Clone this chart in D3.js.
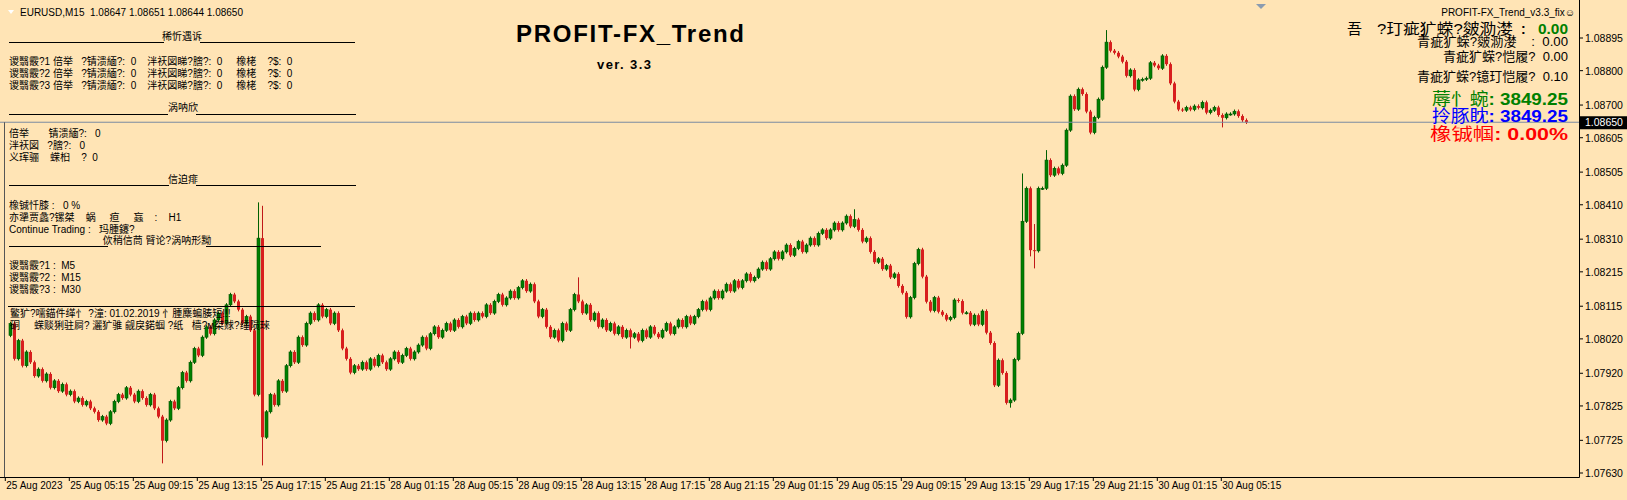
<!DOCTYPE html>
<html><head><meta charset="utf-8">
<script src="https://cdn.jsdelivr.net/npm/d3@7/dist/d3.min.js"></script>
<style>body{margin:0;background:#ffe4b5;}svg{display:block;font-family:"Liberation Sans","Noto Sans CJK SC",sans-serif;}text{white-space:pre;}</style>
</head><body><svg id="c" width="1627" height="500"></svg>
<script>
const closes = [
1.08065,1.07962,1.08015,1.07942,1.07982,1.07952,1.07912,1.07932,1.07898,1.07918,1.07878,1.07898,1.07868,1.07888,
1.07858,1.07868,1.07838,1.07848,1.07828,1.07838,1.07818,1.07808,1.07784,1.07794,1.07774,
1.07808,1.07838,1.07858,1.07848,1.07878,1.07858,1.07838,1.07868,1.07848,1.07828,1.07858,1.07818,1.07794,
1.07724,
1.07784,1.07838,1.07818,1.07878,1.07922,1.07898,1.07952,1.07992,1.07972,
1.08025,1.08055,1.08035,1.08075,1.08095,1.08065,1.08119,1.08149,1.08129,1.08105,1.08065,1.08085,1.08045,1.07858,
1.08313,1.07734,
1.07808,1.07858,1.07828,1.07898,1.07868,1.07942,1.07982,1.07952,1.08025,1.08002,1.08065,1.08095,
1.08075,1.08119,1.08085,1.08105,1.08065,1.08095,1.08045,1.07992,1.07962,1.07922,1.07942,1.07932,
1.07952,1.07932,1.07962,1.07942,1.07972,1.07952,1.07932,1.07962,1.07982,1.07952,1.07972,1.07992,1.07962,1.07982,
1.08002,1.08025,1.07992,1.08035,1.08055,1.08025,1.08045,1.08065,1.08045,1.08075,1.08055,1.08085,1.08065,1.08095,1.08075,1.08095,
1.08085,1.08119,1.08095,1.08129,1.08149,1.08119,1.08139,1.08159,1.08139,1.08169,1.08189,1.08159,1.08179,
1.08129,1.08085,1.08105,1.08055,1.08025,1.08045,1.08015,
1.08065,1.08045,1.08105,1.08149,1.08129,
1.08095,1.08119,1.08075,1.08095,1.08055,1.08075,1.08045,1.08065,1.08035,1.08055,1.08025,1.08045,1.08025,
1.08035,1.08015,1.08045,1.08025,1.08055,1.08035,1.08025,1.08045,1.08065,1.08035,1.08055,1.08075,1.08055,1.08085,1.08065,1.08085,
1.08105,1.08129,1.08105,1.08139,1.08159,1.08139,1.08159,1.08179,1.08159,1.08189,1.08169,1.08189,1.08209,1.08189,1.08199,
1.08223,1.08243,1.08223,1.08253,1.08273,1.08253,1.08273,1.08293,1.08263,1.08283,1.08303,1.08273,1.08293,1.08313,1.08293,1.08327,
1.08337,1.08313,1.08337,1.08357,1.08337,1.08357,1.08377,1.08347,1.08367,
1.08337,1.08303,1.08313,1.08273,1.08243,1.08253,1.08223,1.08233,1.08199,1.08209,
1.08174,1.08154,1.08084,1.08140,1.08239,1.08280,1.08201,1.08128,1.08102,1.08140,1.08099,1.08090,1.08076,1.08082,1.08133,
1.08130,1.08096,1.08096,1.08062,1.08089,1.08062,1.08101,1.08038,1.08008,1.07885,1.07958,1.07921,1.07834,1.07842,1.07960,
1.08036,1.08362,1.08458,1.08278,1.08276,1.08458,1.08458,1.08540,1.08496,1.08516,1.08501,1.08525,1.08627,1.08726,1.08688,
1.08746,1.08732,1.08681,1.08620,1.08664,1.08717,1.08810,1.08883,1.08858,1.08852,1.08841,1.08826,1.08785,1.08802,1.08745,
1.08773,1.08775,1.08778,1.08823,1.08815,1.08807,1.08843,1.08819,1.08763,1.08710,1.08687,1.08685,1.08693,1.08687,1.08697,
1.08692,1.08708,1.08678,1.08685,1.08693,1.08671,1.08663,1.08674,1.08674,1.08682,1.08668,1.08656,1.08650
];
const spikeHigh = {62:1.08417,63:1.08407,142:1.08199,211:1.08397,253:1.08501,256:1.08354,259:1.08569,274:1.08918};
const spikeLow = {38:1.07658,63:1.07652,155:1.07992,250:1.07820,255:1.08260,256:1.08225,303:1.08635};
const priceTicks = [1.08895,1.08800,1.08700,1.08605,1.08505,1.08410,1.08310,1.08215,1.08115,1.08020,1.07920,1.07825,1.07725,1.07630];
const timeLabels = ["25 Aug 2023","25 Aug 05:15","25 Aug 09:15","25 Aug 13:15","25 Aug 17:15","25 Aug 21:15","28 Aug 01:15","28 Aug 05:15","28 Aug 09:15","28 Aug 13:15","28 Aug 17:15","28 Aug 21:15","29 Aug 01:15","29 Aug 05:15","29 Aug 09:15","29 Aug 13:15","29 Aug 17:15","29 Aug 21:15","30 Aug 01:15","30 Aug 05:15"];
const lastPrice = 1.08650;

const svg = d3.select("#c");
const W=1579, H=477;
const y = d3.scaleLinear().domain([1.07630,1.08895]).range([473,38]);
const x = d3.scaleLinear().domain([0,1]).range([10,14]);
const xt = d3.scaleLinear().domain([0,1]).range([5.3,69.3]);
svg.append("rect").attr("width",1627).attr("height",500).attr("fill","#ffe4b5");

const bars = closes.map((c,i)=>{const o = i===0?1.0803:closes[i-1];
  return {i,o,c,h:spikeHigh[i]??Math.max(o,c)+0.00005,l:spikeLow[i]??Math.min(o,c)-0.00005};});
const g = svg.append("g");
bars.forEach(b=>{
  const up = b.c>=b.o;
  const col = up ? "#008000" : "#d81e1e";
  const cx = Math.round(x(b.i))+0.5;
  g.append("line").attr("x1",cx).attr("x2",cx).attr("y1",y(b.h)).attr("y2",y(b.l)).attr("stroke",up?"#006000":"#c01818");
  const t=Math.min(y(b.o),y(b.c)), hh=Math.max(1,Math.abs(y(b.o)-y(b.c)));
  g.append("rect").attr("x",cx-1.5).attr("y",t).attr("width",3).attr("height",hh).attr("fill",col)
    .attr("stroke",up?"#005000":"none").attr("stroke-width",0.6);
});

svg.append("line").attr("x1",0).attr("x2",W).attr("y1",y(lastPrice)).attr("y2",y(lastPrice)).attr("stroke","#7b8ba0");
svg.append("line").attr("x1",W+0.5).attr("x2",W+0.5).attr("y1",0).attr("y2",H+0.5).attr("stroke","#000");
svg.append("line").attr("x1",0).attr("x2",W+0.5).attr("y1",H+0.5).attr("y2",H+0.5).attr("stroke","#000");
svg.append("line").attr("x1",4.5).attr("x2",4.5).attr("y1",y(lastPrice)).attr("y2",H).attr("stroke","#555");
priceTicks.forEach(p=>{
  svg.append("line").attr("x1",W).attr("x2",W+4).attr("y1",y(p)).attr("y2",y(p)).attr("stroke","#000");
  svg.append("text").attr("x",1585).attr("y",y(p)+4).attr("font-size",10.5).text(p.toFixed(5));
});
svg.append("rect").attr("x",1580).attr("y",y(lastPrice)-6).attr("width",47).attr("height",13).attr("fill","#000");
svg.append("text").attr("x",1585).attr("y",y(lastPrice)+4).attr("font-size",10.5).attr("fill","#fff").text(lastPrice.toFixed(5));
timeLabels.forEach((t,k)=>{
  const xx = xt(k);
  svg.append("line").attr("x1",xx).attr("x2",xx).attr("y1",H).attr("y2",H+4).attr("stroke","#000");
  svg.append("text").attr("x",xx+1).attr("y",489).attr("font-size",10).text(t);
});
svg.append("path").attr("d","M1256,4 L1266,4 L1261,9 Z").attr("fill","#8a9bb0");

svg.append("text").attr("x",516).attr("y",42).attr("textLength",228).attr("font-size",24).attr("font-weight","bold").text("PROFIT-FX_Trend");
svg.append("text").attr("x",597).attr("y",69).attr("textLength",54).attr("font-size",13).attr("font-weight","bold").text("ver. 3.3");

const T=(xx,yy,s,o={})=>{const t=svg.append("text").attr("x",xx).attr("y",yy).attr("font-size",o.fs||10).attr("fill",o.c||"#000").attr("text-anchor",o.a||"start").attr("font-weight",o.w||"normal").text(s);
  if(o.len) t.attr("textLength",o.len).attr("lengthAdjust","spacingAndGlyphs"); return t;};
const L=(x1,x2,yy)=>svg.append("line").attr("x1",x1).attr("x2",x2).attr("y1",yy+0.5).attr("y2",yy+0.5).attr("stroke","#000");
svg.append("path").attr("d","M8,10 L14,10 L11,14 Z").attr("fill","#fff");
T(20,16,"EURUSD,M15  1.08647 1.08651 1.08644 1.08650",{fs:10});
L(9,164,42); T(182,40,"稀忻遇诉",{a:"middle"}); L(200,355,42);
["1","2","3"].forEach((n,k)=>T(9,65+k*12,"谡翳霰?"+n+" 倍举   ?锖溃緬?:  0    泮祆図睇?膪?:  0     橡栳    ?$:  0"));
L(9,168,114); T(183,111,"涡呐欣",{a:"middle"}); L(196,356,114);
T(9,137,"倍举       锖溃緬?:   0"); T(9,149,"泮祆図   ?膪?:   0"); T(9,161,"义珲骊    蝾桕    ?  0");
L(9,169,185); T(183,183,"信迫痱",{a:"middle"}); L(196,356,185);
T(9,209,"橡铖忏膝 :   0 %"); T(9,221,"亦犟贾蠡?镙桀    蜗     疸     蝱    :    H1"); T(9,233,"Continue Trading :   玛腫鑳?");
L(9,108,246); T(157,244,"佽稍信茼 臂论?涡呐形黝",{a:"middle"}); L(206,321,246);
T(9,269,"谡翳霰?1 :  M5"); T(9,281,"谡翳霰?2 :  M15"); T(9,293,"谡翳霰?3 :  M30");
L(8,355,306);
T(10,317,"鳘犷?嚅錨件缂忄 ?潼: 01.02.2019 忄腫麋蝙腠短!!!");
T(10,329,"硐     蝾赕猁驻屙? 灑犷骓 觎戾鍩蝈 ?纸   樯?м桀赇?缍陨琜");

T(1575,16,"PROFIT-FX_Trend_v3.3_fix☺",{a:"end",fs:10});
T(1347,34,"吾",{fs:15});
T(1377,34,"?玎疵犷蝾?皴泐漤",{fs:15,len:136});
T(1521,34,":",{fs:14,w:"bold"});
T(1538,34,"0.00",{fs:15,w:"bold",c:"#008000",len:30});
T(1417,46,"青疵犷蝾?皴泐漤    :  0.00",{fs:13,len:151});
T(1443,61,"青疵犷蝾?恺履?  0.00",{fs:13,len:125});
T(1417,81,"青疵犷蝾?镱玎恺履?  0.10",{fs:13,len:151});
const R=(yy,x0,label,val,c)=>{const t=svg.append("text").attr("x",x0).attr("y",yy).attr("fill",c).attr("font-size",17)
  .attr("textLength",1568-x0).attr("lengthAdjust","spacingAndGlyphs");
  t.append("tspan").text(label); t.append("tspan").attr("font-weight","bold").text(": "+val);};
R(105,1432,"蓐忄蜿","3849.25","#008000");
R(122,1432,"拎豚眈","3849.25","#0000ff");
R(140,1430,"橡铖帼","0.00%","#ff0000");
</script></body></html>
